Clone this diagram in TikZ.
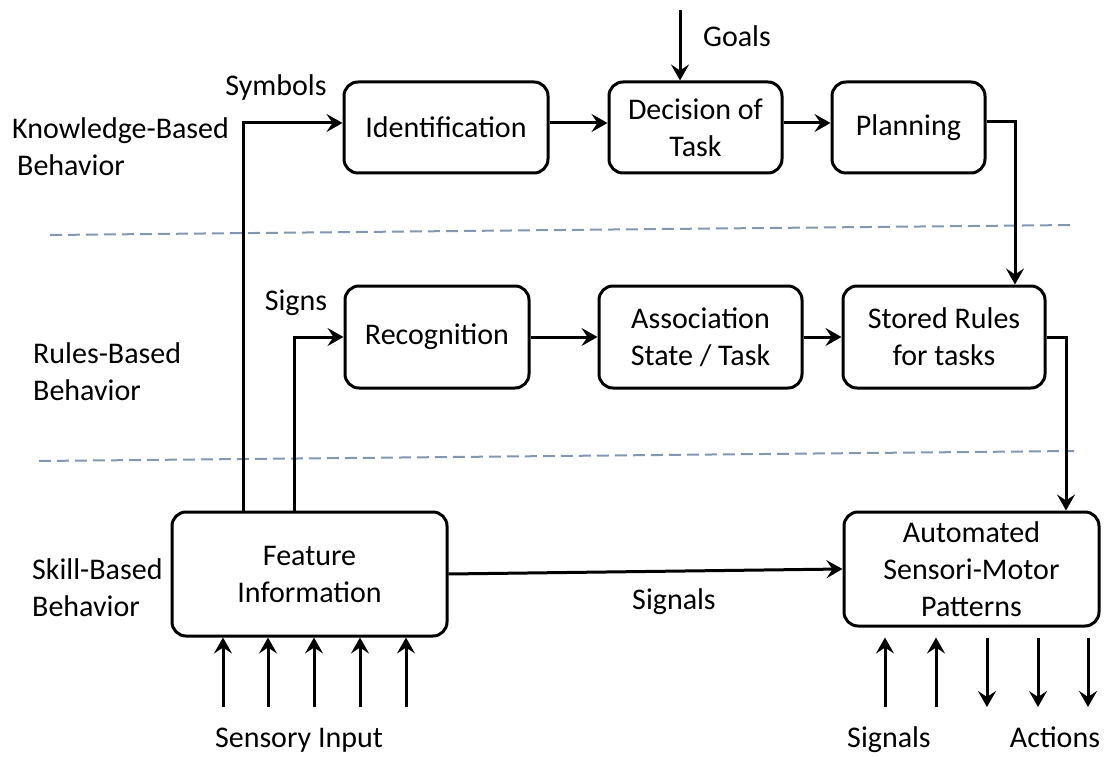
\documentclass[tikz,border=0pt]{standalone}
\usepackage{fontspec}
\setmainfont{Carlito}
\usetikzlibrary{arrows.meta}
\definecolor{levelline}{HTML}{8497B0}
\begin{document}
\begin{tikzpicture}[x=1pt,y=-1pt,
  every node/.style={font=\fontsize{30}{37}\selectfont, inner sep=0pt},
  stage/.style={draw, line width=3pt, rounded corners=14pt, align=center},
  link/.style={line width=3pt, -{Stealth[length=16pt,width=18pt,inset=6pt]}},
  level/.style={draw=levelline, line width=2pt, dash pattern=on 12pt off 6pt},
  tag/.style={align=center},
  foot/.style={anchor=base},
  side/.style={align=left, anchor=west}]
  \useasboundingbox (0,0) rectangle (1104,757);

  % boxes: knowledge level
  \node[stage, minimum width=204pt, minimum height=91pt] (ident) at (446,127.5) {Identification};
  \node[stage, minimum width=173pt, minimum height=91pt] (decision) at (695.5,127.5) {Decision of\\Task};
  \node[stage, minimum width=153pt, minimum height=91pt] (planning) at (908.5,127.5) {Planning};
  % boxes: rules level
  \node[stage, minimum width=184pt, minimum height=102pt] (recog) at (437,337) {Recognition};
  \node[stage, minimum width=203pt, minimum height=102pt] (assoc) at (700.5,337) {Association\\State / Task};
  \node[stage, minimum width=202pt, minimum height=102pt] (stored) at (944,337) {Stored Rules\\for tasks};
  % boxes: skill level
  \node[stage, minimum width=275pt, minimum height=124pt] (feature) at (309.5,574) {Feature\\Information};
  \node[stage, minimum width=255pt, minimum height=114pt] (auto) at (971.5,569) {Automated\\Sensori-Motor\\Patterns};

  % level separators
  \draw[level] (50,235) -- (1074,225);
  \draw[level] (39,461) -- (1074,451);

  % level names
  \node[side] (kb) at (12,147) {Knowledge-Based\\\hspace*{5pt}Behavior};
  \node[side] (rb) at (33,372) {Rules-Based\\Behavior};
  \node[side] (sb) at (32,588) {Skill-Based\\Behavior};

  % helper coordinates for the vertical runs
  \coordinate (symx) at (243,0);
  \coordinate (signx) at (294,0);
  \coordinate (planx) at (1015,0);
  \coordinate (rulex) at (1066,0);
  \coordinate (goalin) at (680,10);

  % connectors
  \draw[link] (symx |- feature.north) |- ([yshift=4.5pt]ident.west);
  \draw[link] (signx |- feature.north) |- (recog.west);
  \draw[link] ([yshift=4.5pt]ident.east) -- ([yshift=4.5pt]decision.west);
  \draw[link] ([yshift=4.5pt]decision.east) -- ([yshift=4.5pt]planning.west);
  \draw[link] ([yshift=5.5pt]planning.east) -| (planx |- stored.north);
  \draw[link] (recog.east) -- (assoc.west);
  \draw[link] (assoc.east) -- (stored.west);
  \draw[link] (stored.east) -| (rulex |- auto.north);
  \draw[link] (feature.east) -- (auto.west);
  \draw[link] (goalin) -- (goalin |- decision.north);

  % sensory inputs
  \foreach \i/\x in {1/223,2/268,3/314,4/360,5/406} {
    \coordinate (sin\i) at (\x,707);
    \draw[link] (sin\i) -- (sin\i |- feature.south);
  }
  % signals in and actions out
  \foreach \i/\x in {1/885,2/936} {
    \coordinate (sig\i) at (\x,707);
    \draw[link, shorten >=10pt] (sig\i) -- (sig\i |- auto.south);
  }
  \foreach \i/\x in {1/987,2/1038,3/1088} {
    \coordinate (act\i) at (\x,707);
    \draw[link, shorten <=10pt] (act\i |- auto.south) -- (act\i);
  }

  % labels
  \node[tag] (goals) at (737,36) {Goals};
  \node[tag] (symbols) at (276,88) {Symbols};
  \node[tag] (signs) at (296,303) {Signs};
  \node[tag] (signalsmid) at (674,602) {Signals};
  \node[foot] (sensory) at (299,747) {Sensory Input};
  \node[foot] (signalsout) at (889,747) {Signals};
  \node[foot] (actions) at (1055,747) {Actions};
\end{tikzpicture}
\end{document}
